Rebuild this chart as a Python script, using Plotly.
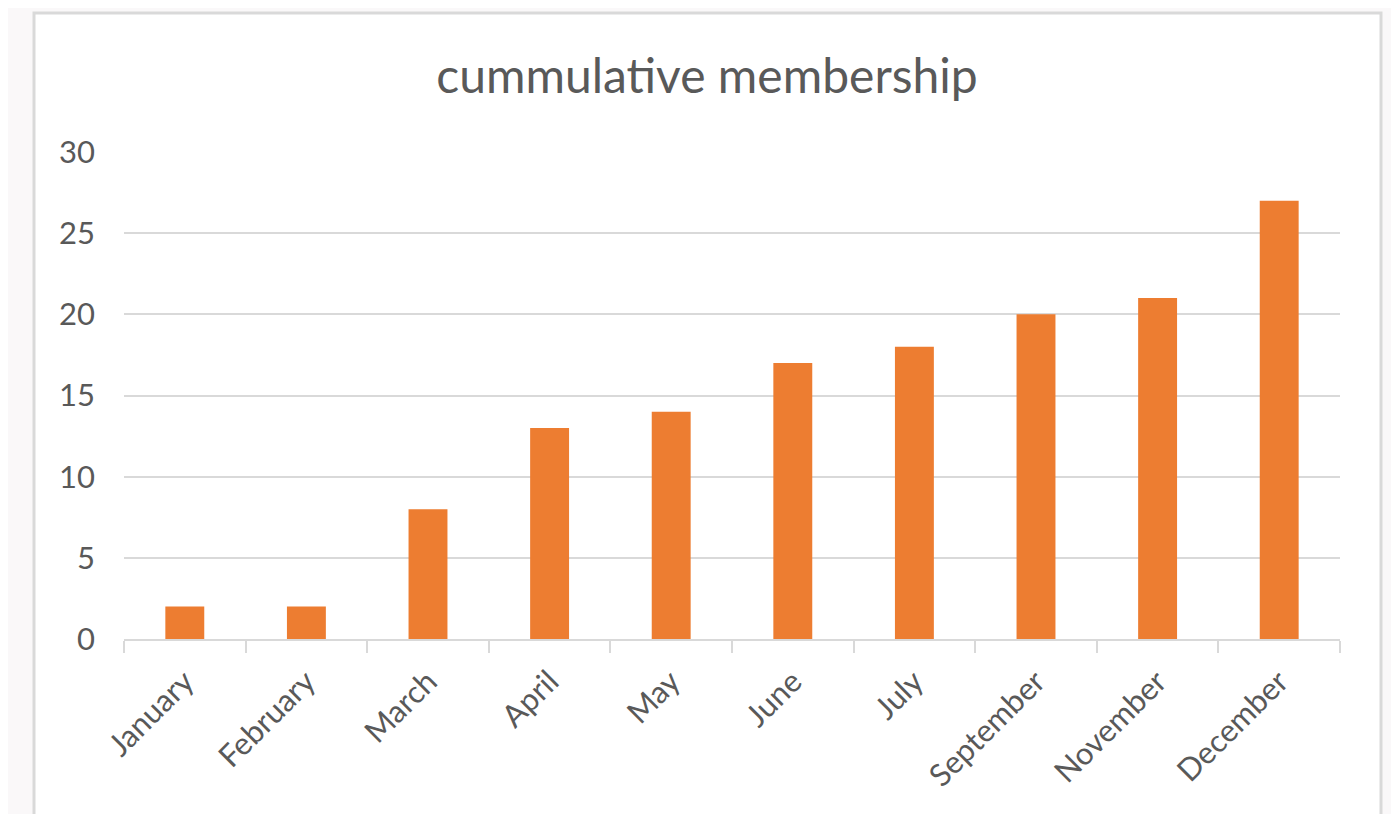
import plotly.graph_objects as go

months = ["January", "February", "March", "April", "May", "June", "July",
          "September", "November", "December"]
members = [2, 2, 8, 13, 14, 17, 18, 20, 21, 27]
y_ticks = [0, 5, 10, 15, 20, 25, 30]
title_text = "cummulative membership"

# page body has an 8px margin, so the figure is placed at (8, 8)
OFF = 8
W, H = 1399 - OFF, 814 - OFF
L, R, T, B = 124 - OFF, 59, 152 - OFF, 175
pw, ph = W - L - R, H - T - B

def px_to_paper_x(px):
    return (px - OFF - L) / pw

def px_to_paper_y(py):
    return (H - B - (py - OFF)) / ph

fig = go.Figure()
fig.add_trace(go.Bar(x=months, y=members, marker=dict(color="#ED7D31", line=dict(width=0))))

font_family = "Lato, 'Open Sans', sans-serif"
text_color = "#595959"

fig.update_layout(
    width=W, height=H,
    margin=dict(l=L, r=R, t=T, b=B, autoexpand=False),
    paper_bgcolor="#faf8f9",
    plot_bgcolor="rgba(0,0,0,0)",
    bargap=0.68,
    showlegend=False,
    title=dict(text=title_text, x=px_to_paper_x(707), xanchor="center", xref="paper",
               y=1 - (76 - OFF) / H, yanchor="middle",
               font=dict(family=font_family, size=48, color=text_color)),
    font=dict(family=font_family, color=text_color),
    shapes=[dict(type="rect", xref="paper", yref="paper", layer="below",
                 x0=px_to_paper_x(34), x1=px_to_paper_x(1381),
                 y0=px_to_paper_y(830), y1=px_to_paper_y(13),
                 fillcolor="white", line=dict(color="#d9d9d9", width=3))],
)
fig.update_yaxes(range=[0, 30], tickvals=y_ticks, showgrid=True, gridcolor="#d9d9d9",
                 gridwidth=2, zeroline=False, showline=False, ticks="",
                 ticklabelstandoff=28, tickfont=dict(size=31, color=text_color))
fig.update_xaxes(showline=True, linecolor="#d9d9d9", linewidth=2, ticks="outside",
                 tickson="boundaries", ticklen=12, tickwidth=2, tickcolor="#d9d9d9",
                 tickangle=-45, ticklabelstandoff=10,
                 tickfont=dict(size=31, color=text_color),
                 showgrid=False)

fig.write_html("out.html")
